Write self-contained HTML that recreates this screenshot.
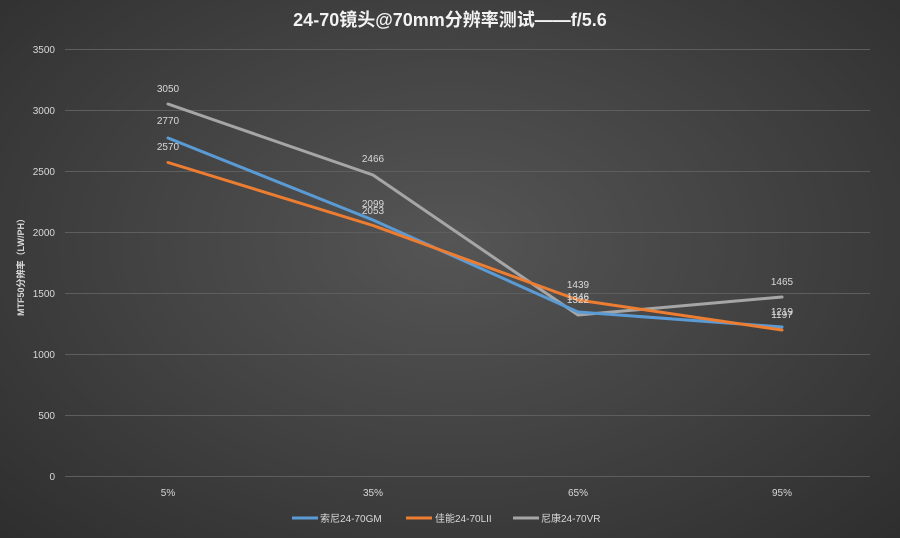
<!DOCTYPE html>
<html><head><meta charset="utf-8"><style>
html,body{margin:0;padding:0;}
body{width:900px;height:538px;overflow:hidden;background:radial-gradient(ellipse at 50% 45%,#555 0%,#444 45%,#2e2e2e 100%);}
svg{display:block;font-family:"Liberation Sans","Noto Sans CJK SC",sans-serif;}
</style></head><body>
<svg width="900" height="538" viewBox="0 0 900 538">
<text x="450" y="26" text-anchor="middle" fill="#f2f2f2" font-size="18" font-weight="bold">24-70镜头@70mm分辨率测试——f/5.6</text>
<g stroke="#5e5e5e" stroke-width="1">
<line x1="65" y1="49.5" x2="870" y2="49.5"/><line x1="65" y1="110.5" x2="870" y2="110.5"/>
<line x1="65" y1="171.5" x2="870" y2="171.5"/><line x1="65" y1="232.5" x2="870" y2="232.5"/>
<line x1="65" y1="293.5" x2="870" y2="293.5"/><line x1="65" y1="354.5" x2="870" y2="354.5"/>
<line x1="65" y1="415.5" x2="870" y2="415.5"/><line x1="65" y1="476.5" x2="870" y2="476.5"/>
</g>
<g fill="#d9d9d9" font-size="10" text-anchor="end">
<text x="55" y="53">3500</text><text x="55" y="114">3000</text><text x="55" y="175">2500</text>
<text x="55" y="236">2000</text><text x="55" y="297">1500</text><text x="55" y="358">1000</text>
<text x="55" y="419">500</text><text x="55" y="480">0</text>
</g>
<g fill="#d9d9d9" font-size="10" text-anchor="middle">
<text x="168" y="496">5%</text><text x="373" y="496">35%</text><text x="578" y="496">65%</text><text x="782" y="496">95%</text>
</g>
<text transform="translate(24,265) rotate(-90)" text-anchor="middle" fill="#d9d9d9" font-size="9" font-weight="bold">MTF50分辨率（LW/PH）</text>
<g fill="none" stroke-width="3" stroke-linecap="round" stroke-linejoin="round">
<polyline stroke="#a6a6a6" points="168,104 373,175 578,315 782,297"/>
<polyline stroke="#5b9bd5" points="168,138 373,220 578,312 782,327"/>
<polyline stroke="#ed7d31" points="168,162.5 373,225.5 578,300 782,330"/>
</g>
<g fill="#d9d9d9" font-size="10" text-anchor="middle">
<text x="168" y="92">3050</text><text x="168" y="124">2770</text><text x="168" y="150">2570</text>
<text x="373" y="162">2466</text><text x="373" y="207">2099</text><text x="373" y="214">2053</text>
<text x="578" y="288">1439</text><text x="578" y="300">1346</text><text x="578" y="303">1322</text>
<text x="782" y="285">1465</text><text x="782" y="315">1219</text><text x="782" y="318">1197</text>
</g>
<g stroke-width="3">
<line x1="292" y1="518" x2="318" y2="518" stroke="#5b9bd5"/>
<line x1="406" y1="518" x2="432" y2="518" stroke="#ed7d31"/>
<line x1="513" y1="518" x2="539" y2="518" stroke="#a6a6a6"/>
</g>
<g fill="#d9d9d9" font-size="10">
<text x="320" y="522">索尼24-70GM</text><text x="435" y="522">佳能24-70LII</text><text x="541" y="522">尼康24-70VR</text>
</g>
</svg>
</body></html>
